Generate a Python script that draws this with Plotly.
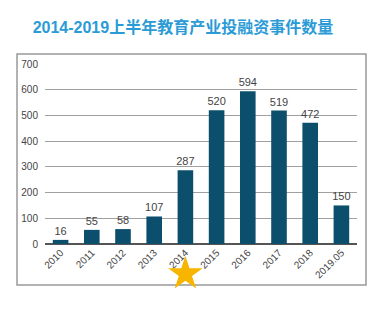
import plotly.graph_objects as go

categories = ["2010", "2011", "2012", "2013", "2014", "2015", "2016", "2017", "2018", "2019.05"]
values = [16, 55, 58, 107, 287, 520, 594, 519, 472, 150]
y_ticks = [0, 100, 200, 300, 400, 500, 600, 700]
highlight = "2014"
title = "2014-2019上半年教育产业投融资事件数量"

fig = go.Figure()
fig.add_trace(go.Bar(
    x=categories, y=values,
    marker=dict(color="#0c4f6d", line=dict(width=0)),
    text=[str(v) for v in values],
    textposition="outside",
    constraintext="none",
    textfont=dict(family="Liberation Sans, Arial", size=11, color="#444444"),
    cliponaxis=False,
    width=0.5,
))
# highlight star in its own (hidden) row below the category labels
fig.add_trace(go.Scatter(
    x=[highlight], y=[0], mode="markers",
    xaxis="x2", yaxis="y2",
    marker=dict(symbol="star", size=26, color="#f7b500", line=dict(width=0)),
    hoverinfo="skip",
))

fig.update_layout(
    width=390, height=309,
    margin=dict(l=45, r=33, t=64, b=19),
    paper_bgcolor="white", plot_bgcolor="white",
    showlegend=False,
    font=dict(family="Liberation Sans, Arial", color="#444444"),
    title=dict(
        text="<b>" + title + "</b>",
        x=0.442, xanchor="center", xref="paper",
        y=0.91, yanchor="middle", yref="container",
        font=dict(family="Liberation Sans, Noto Sans CJK SC", size=16, color="#2b9bd6"),
    ),
    xaxis=dict(
        type="category", tickangle=-45,
        tickfont=dict(size=10, color="#444444"),
        showgrid=False, showline=False, ticks="",
        range=[-0.5, len(categories) - 0.5],
        anchor="y",
    ),
    yaxis=dict(
        domain=[0.2035, 1],
        range=[0, 700], tickvals=y_ticks,
        tickfont=dict(size=10, color="#444444"),
        showgrid=True, gridcolor="#a0a0a0", gridwidth=1,
        zeroline=True, zerolinecolor="#555555", zerolinewidth=1.5,
        showline=False, ticks="", ticklabelstandoff=6,
    ),
    xaxis2=dict(
        type="category", categoryarray=categories, categoryorder="array",
        range=[-0.5, len(categories) - 0.5],
        anchor="y2", visible=False,
    ),
    yaxis2=dict(
        domain=[0, 0.2035], range=[-0.7, 1.3],
        anchor="x2", visible=False,
    ),
    shapes=[dict(
        type="rect", xref="paper", yref="paper",
        x0=-0.0897, x1=1.0288, y0=0.0221, y1=1.0442,
        line=dict(color="#999999", width=1.5), fillcolor="rgba(0,0,0,0)",
        layer="below",
    )],
)

fig.write_html("out.html")
